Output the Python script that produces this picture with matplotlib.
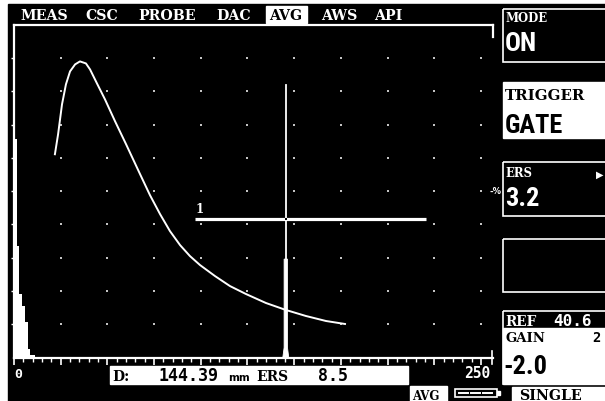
import matplotlib
matplotlib.use("Agg")
import matplotlib.pyplot as plt
import numpy as np
from matplotlib.patches import Rectangle
from matplotlib import font_manager
from matplotlib.font_manager import FontProperties

menu_items = ["MEAS", "CSC", "PROBE", "DAC", "AVG", "AWS", "API"]
active_menu = "AVG"

range_start = 0
range_end = 250           # mm, full screen width (10 divisions)

# AVG / DGS reference curve (mm, % screen height)
curve_mm = [21.9, 23.6, 25.7, 27.8, 30.0, 32.7, 35.3, 38.5, 40.7, 44.4, 48.7,
            54.1, 60.0, 67.5, 72.8, 78.2, 83.5, 88.9, 94.2, 99.6, 107.6,
            115.6, 124.2, 134.9, 145.6, 156.3, 167.0, 177.2]
curve_pct = [61.1, 67.1, 76.1, 82.1, 86.0, 88.1, 89.0, 88.4, 86.6, 82.4, 77.6,
             71.0, 64.1, 55.1, 48.8, 43.1, 38.0, 33.8, 30.5, 27.8, 24.5,
             21.5, 19.1, 16.4, 14.3, 12.5, 11.0, 10.1]

# initial pulse (step envelope)
pulse_mm = [0, 1.6, 2.7, 4.3, 5.9, 7.5, 8.6, 11.2]
pulse_pct = [65.6, 33.5, 19.1, 15.5, 10.7, 2.6, 0.8, 0]

# flaw echo
echo_mm = [143.9, 144.6, 144.6, 146.4, 146.4, 147.1]
echo_pct = [0, 3, 29.6, 29.6, 3, 0]

# gate 1 and measuring cursor
gate_start, gate_end, gate_level = 96.9, 220.5, 41.6
cursor_mm, cursor_top = 145.5, 82.0

# readouts
mode_value = "ON"
trigger_value = "GATE"
ers_value = "3.2"
ref_value = "40.6"
gain_step = "2"
gain_value = "-2.0"
distance_value = "144.39"
ers_reading = "8.5"

# ---------------- fonts ----------------
LBL = "DejaVu Serif"
MONO = "DejaVu Sans Mono"


def pick_condensed():
    prefs = ["Liberation Sans Narrow", "Roboto Condensed", "Noto Sans",
             "DejaVu Sans", "Open Sans", "Roboto", "Inter", "Lato"]
    cands = {}
    for f in font_manager.fontManager.ttflist:
        if f.stretch in ("condensed", "semi-condensed", "extra-condensed") \
                and str(f.weight).lower() in ("700", "bold") \
                and f.style == "normal":
            cands.setdefault(f.name, f.fname)
    for p in prefs:
        if p in cands:
            return cands[p]
    return None


cond = pick_condensed()
if cond:
    def bigfp():
        return FontProperties(fname=cond, size=19)
else:
    def bigfp():
        return FontProperties(family=MONO, weight="bold", size=16)

W, H = 605, 402
fig = plt.figure(figsize=(W / 100, H / 100), dpi=100, facecolor="white")
ui = fig.add_axes([0, 0, 1, 1])
ui.set_xlim(0, W)
ui.set_ylim(H, 0)
ui.axis("off")
ui.add_patch(Rectangle((8, 5), W, H, color="black", zorder=0))


def txt(x, y, s, size, color="white", family=LBL, ha="left", **kw):
    ui.text(x, y, s, fontsize=size, color=color, family=family,
            fontweight="bold", ha=ha, va="baseline", zorder=5, **kw)


def bigtxt(x, y, s, color="white"):
    ui.text(x, y, s, fontproperties=bigfp(), color=color, ha="left",
            va="baseline", zorder=5)


# ---------------- top menu ----------------
cell = 13.1
pos = 0
for item in menu_items:
    x = 20 + cell * pos
    if item == active_menu:
        ui.add_patch(Rectangle((x - 3, 7), 41, 17, color="white", zorder=3))
        txt(x, 20.5, item, 10.2, color="black")
    else:
        txt(x, 20.5, item, 10.2)
    pos += len(item) + 1

# ---------------- A-scan axes ----------------
L, R, T, B = 14, 493, 25.8, 358.6
px_per_range = 481 - 14
ax = fig.add_axes([L / W, 1 - B / H, (R - L) / W, (B - T) / H])
xmax = range_end * (R - L) / px_per_range
ax.set_xlim(range_start, xmax)
ax.set_ylim(0, 100)
ax.patch.set_alpha(0)
for side in ["left", "top", "bottom"]:
    ax.spines[side].set_color("white")
    ax.spines[side].set_linewidth(1.6)
ax.spines["right"].set_visible(False)
ax.plot([xmax, xmax], [100, 96.4], color="white", lw=1.6, clip_on=False)
ax.plot([xmax - 0.8, xmax - 0.8], [2, -2], color="white", lw=1.2, clip_on=False)

ax.set_xticks(np.arange(range_start, range_end + 1, 25))
ax.set_xticks(np.arange(range_start, range_end + 1, 5), minor=True)
ax.set_yticks(np.arange(10, 100, 10))
ax.tick_params(axis="x", which="major", direction="out", length=5, width=1.2,
               color="white", labelbottom=False)
ax.tick_params(axis="x", which="minor", direction="out", length=2.6, width=1.0,
               color="white")
ax.tick_params(axis="y", direction="out", length=2, width=1.0, color="white",
               labelleft=False)

gx, gy = np.meshgrid(np.arange(25, range_end + 1, 25), np.arange(10, 100, 10))
ax.scatter(gx.ravel(), gy.ravel(), s=2.8, marker="s", c="#c4c4c4",
           linewidths=0, zorder=2, clip_on=False)

ax.fill_between(pulse_mm, pulse_pct, step="post", color="white", lw=0, zorder=3)
ax.plot(curve_mm, curve_pct, color="white", lw=1.4, zorder=4,
        solid_joinstyle="round")
ax.fill(echo_mm, echo_pct, color="white", lw=0.6, zorder=4)
ax.plot([gate_start, gate_end], [gate_level, gate_level], color="white",
        lw=2.3, zorder=4, solid_capstyle="butt")
ax.plot([cursor_mm, cursor_mm], [0, cursor_top], color="white", lw=1.3,
        zorder=4)
ax.scatter([cursor_mm], [gate_level], s=3, c="black", marker="s", zorder=5,
           linewidths=0)
ax.text(gate_start + 0.3, gate_level + 1.2, "1", color="white", fontsize=8.5,
        family=LBL, fontweight="bold", ha="left", va="bottom")

# range labels
txt(14, 378, str(range_start), 9.5, family=MONO)
txt(490, 378, str(range_end), 10.5, family=MONO, ha="right")

# distance readout box
ui.add_patch(Rectangle((110, 367), 298, 18, color="white", zorder=3))
txt(112, 381.5, "D:", 10, color="black")
txt(158, 381.5, distance_value, 12, color="black", family=MONO)
txt(228, 381.5, "mm", 7.5, color="black", family="DejaVu Sans")
txt(256, 381.5, "ERS", 10, color="black")
txt(318, 381.5, ers_reading, 12, color="black", family=MONO)

# bottom status
ui.add_patch(Rectangle((410, 387), 37, 16, color="white", zorder=3))
txt(412, 400, "AVG", 8.5, color="black")
ui.add_patch(Rectangle((455, 390), 42, 8, fill=False, ec="white", lw=1.2,
                       zorder=3))
ui.add_patch(Rectangle((497, 392), 3, 4, color="white", zorder=3))
for sx in (459, 471, 483):
    ui.plot([sx, sx + 9], [394, 394], color="white", lw=1.4, zorder=4)

# ---------------- right-hand panel ----------------
ui.add_patch(Rectangle((503, 10), 110, 53, fill=False, ec="white", lw=1.2,
                       zorder=3))
txt(505, 21.5, "MODE", 8.4)
bigtxt(505, 51, mode_value)

ui.add_patch(Rectangle((503, 83), 110, 56, color="white", zorder=3))
txt(505, 100, "TRIGGER", 10.8, color="black")
bigtxt(505, 133, trigger_value, color="black")

ui.add_patch(Rectangle((503, 163), 110, 54, fill=False, ec="white", lw=1.2,
                       zorder=3))
txt(505, 177.5, "ERS", 8.4)
txt(596, 177.5, "\u25B6", 7, family="DejaVu Sans")
bigtxt(505, 206, ers_value)
txt(501, 194, "-%", 6, family="DejaVu Sans", ha="right")

ui.add_patch(Rectangle((503, 240), 110, 53, fill=False, ec="white", lw=1.2,
                       zorder=3))

ui.add_patch(Rectangle((503, 312), 110, 73, fill=False, ec="white", lw=1.2,
                       zorder=3))
ui.add_patch(Rectangle((503, 329), 110, 56, color="white", zorder=3))
txt(505, 326.5, "REF", 9.8)
txt(553, 326.5, ref_value, 11.5, family=MONO)
txt(505, 342.5, "GAIN", 9.5, color="black")
txt(592, 342.5, gain_step, 10, color="black", family=MONO)
bigtxt(503, 374, gain_value, color="black")

ui.add_patch(Rectangle((512, 388), 100, 20, color="white", zorder=3))
txt(519, 400.5, "SINGLE", 10.2, color="black")

fig.savefig("out.png", dpi=100, facecolor=fig.get_facecolor())
